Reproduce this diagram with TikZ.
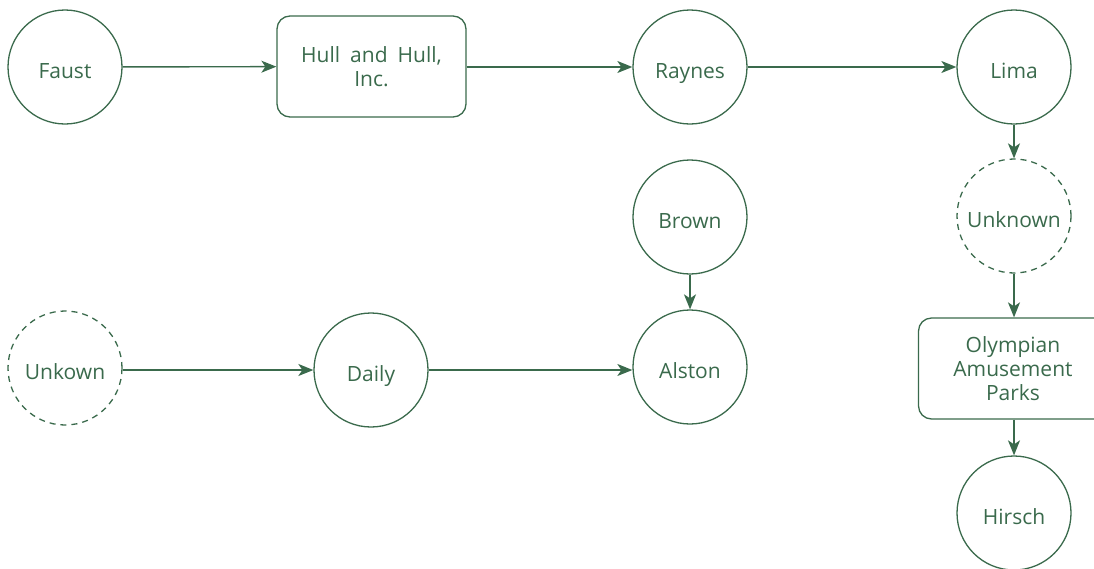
\documentclass[tikz,border=0pt]{standalone}
\usepackage{fontspec}
\setmainfont{Open Sans}
\usetikzlibrary{arrows.meta}
\definecolor{grn}{HTML}{3A6A4C}
\tikzset{
  every node/.style={text=grn, font=\fontsize{21}{24}\selectfont},
  person/.style={circle, draw=grn, line width=1.3pt, minimum size=114pt, inner sep=0pt, text height=22pt, text depth=0pt},
  unknownp/.style={person, dash pattern=on 6pt off 5pt},
  firm/.style={draw=grn, line width=1.3pt, rounded corners=13pt, minimum width=189pt, minimum height=101pt, align=center, inner sep=0pt},
  link/.style={draw=grn, line width=1.4pt, -{Stealth[length=15pt, width=12pt, inset=4pt]}},
}
\begin{document}
\begin{tikzpicture}[x=1pt, y=-1pt]
\useasboundingbox (0,0) rectangle (1094,568);
\clip (0,0) rectangle (1094,568);
\node[person] (faust) at (65,67) {Faust};
\node[firm] (hull) at (371.5,66.5) {Hull\hspace{10pt}and\hspace{10pt}Hull,\\Inc.};
\node[person] (raynes) at (690,67) {Raynes};
\node[person] (lima) at (1014,67) {Lima};
\node[unknownp] (unk1) at (1014,216) {Unknown};
\node[firm] (olymp) at (1013,368.5) {Olympian\\Amusement\\Parks};
\node[person] (hirsch) at (1014,513) {Hirsch};
\node[person] (brown) at (690,217) {Brown};
\node[person] (alston) at (690,367) {Alston};
\node[unknownp] (unk2) at (65,368) {Unkown};
\node[person] (daily) at (371,370) {Daily};
\draw[link] (faust) -- (hull);
\draw[link] (hull.east |- 0,67) -- (raynes.west);
\draw[link] (raynes) -- (lima);
\draw[link] (lima) -- (unk1);
\draw[link] (unk1.south) -- (olymp.north -| unk1.south);
\draw[link] (olymp.south -| hirsch.north) -- (hirsch.north);
\draw[link] (brown) -- (alston);
\draw[link] (unk2.east |- 0,370) -- (daily.west);
\draw[link] (daily.east) -- (alston.west |- 0,370);
\end{tikzpicture}
\end{document}
